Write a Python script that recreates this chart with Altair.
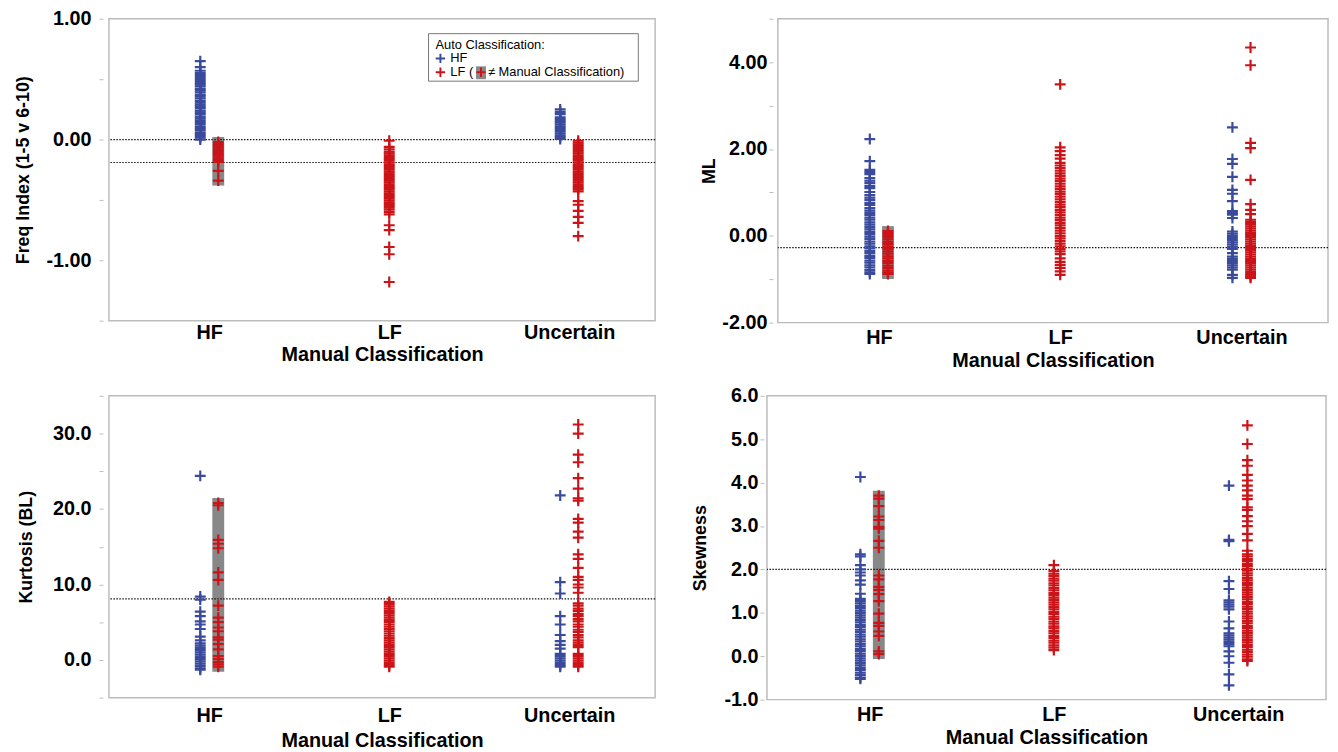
import altair as alt
import pandas as pd

# ---------------- data ----------------
CATEGORIES = ["HF", "LF", "Uncertain"]
AUTO_CLASSES = ["HF", "LF"]

# Freq Index (1-5 v 6-10)
FI_HF_HF = [0.65, 0.60, 0.57, 0.55, 0.535, 0.52, 0.50, 0.485, 0.47, 0.455, 0.44, 0.42, 0.405, 0.39,
            0.37, 0.355, 0.34, 0.32, 0.305, 0.29, 0.275, 0.26, 0.24, 0.225, 0.21, 0.19, 0.175, 0.16,
            0.145, 0.13, 0.11, 0.095, 0.08, 0.06, 0.045, 0.03, 0.015, 0.0]
FI_HF_LF = [-0.02, -0.035, -0.05, -0.065, -0.08, -0.095, -0.11, -0.125, -0.14, -0.155, -0.17,
            -0.185, -0.26, -0.34]
FI_LF_LF = [-0.01, -0.06, -0.08, -0.10, -0.115, -0.13, -0.145, -0.16, -0.175, -0.19, -0.205, -0.22,
            -0.235, -0.25, -0.265, -0.28, -0.295, -0.31, -0.325, -0.34, -0.355, -0.37, -0.385, -0.40,
            -0.415, -0.43, -0.445, -0.46, -0.475, -0.49, -0.505, -0.52, -0.535, -0.55, -0.565, -0.58,
            -0.60, -0.62, -0.71, -0.75, -0.89, -0.95, -1.18]
FI_UN_HF = [0.25, 0.23, 0.21, 0.185, 0.17, 0.155, 0.14, 0.125, 0.11, 0.095, 0.08, 0.065, 0.05, 0.035,
            0.02, 0.005]
FI_UN_LF = [-0.01, -0.025, -0.04, -0.055, -0.07, -0.085, -0.10, -0.115, -0.13, -0.145, -0.16, -0.175,
            -0.19, -0.205, -0.22, -0.235, -0.25, -0.265, -0.28, -0.295, -0.31, -0.325, -0.34, -0.355,
            -0.37, -0.385, -0.40, -0.415, -0.43, -0.51, -0.54, -0.59, -0.64, -0.69, -0.80]
FI_REFS = [0.0, -0.19]

# ML
ML_HF_HF = [2.23, 1.72, 1.52, 1.47, 1.42, 1.33, 1.27, 1.22, 1.15, 1.10, 1.01, 0.94, 0.88, 0.83, 0.76,
            0.71, 0.64, 0.58, 0.53, 0.48, 0.42, 0.37, 0.31, 0.26, 0.20, 0.15, 0.09, 0.04, -0.02,
            -0.07, -0.13, -0.18, -0.24, -0.29, -0.35, -0.40, -0.46, -0.51, -0.57, -0.62, -0.68,
            -0.73, -0.79, -0.84, -0.88]
ML_HF_LF = [0.11, 0.07, 0.02, -0.03, -0.08, -0.14, -0.19, -0.25, -0.30, -0.36, -0.41, -0.47, -0.52,
            -0.58, -0.63, -0.69, -0.74, -0.80, -0.85, -0.88]
ML_LF_LF = [3.49, 2.04, 1.95, 1.86, 1.78, 1.68, 1.62, 1.56, 1.50, 1.44, 1.38, 1.32, 1.26, 1.20, 1.14,
            1.08, 1.02, 0.96, 0.90, 0.84, 0.78, 0.72, 0.66, 0.60, 0.54, 0.48, 0.42, 0.36, 0.30, 0.24,
            0.18, 0.12, 0.06, 0.0, -0.06, -0.12, -0.18, -0.24, -0.30, -0.36, -0.42, -0.52, -0.60,
            -0.67, -0.74, -0.82, -0.90]
ML_UN_HF = [2.50, 1.77, 1.66, 1.36, 1.06, 0.97, 0.80, 0.57, 0.53, 0.49, 0.41, 0.10, 0.05, 0.0, -0.05,
            -0.10, -0.15, -0.20, -0.25, -0.30, -0.40, -0.48, -0.53, -0.58, -0.63, -0.68, -0.73, -0.78,
            -0.90, -0.97]
ML_UN_LF = [4.34, 3.93, 2.14, 2.02, 1.29, 0.73, 0.60, 0.50, 0.37, 0.32, 0.27, 0.22, 0.17, 0.12, 0.07,
            0.02, -0.03, -0.08, -0.13, -0.18, -0.23, -0.28, -0.33, -0.38, -0.43, -0.48, -0.53, -0.58,
            -0.63, -0.68, -0.73, -0.78, -0.83, -0.88, -0.93, -0.97]
ML_REFS = [-0.27]

# Kurtosis (BL)
KU_HF_HF = [24.4, 8.4, 8.0, 6.4, 5.8, 5.1, 4.7, 4.1, 3.1, 2.6, 2.2, 1.9, 1.6, 1.3, 1.0, 0.7, 0.4, 0.1,
            -0.2, -0.5, -0.8, -1.1, -1.3]
KU_HF_LF = [20.8, 20.5, 15.9, 15.4, 14.8, 11.6, 10.6, 7.2, 5.6, 5.0, 4.3, 3.8, 3.0, 2.7, 2.1, 1.4,
            0.5, 0.1, -0.3, -0.6, -0.9]
KU_LF_LF = [7.7, 7.4, 7.1, 6.8, 6.5, 6.2, 5.9, 5.6, 5.3, 5.0, 4.7, 4.4, 4.1, 3.8, 3.5, 3.2, 2.9, 2.6,
            2.3, 2.0, 1.7, 1.4, 1.1, 0.8, 0.5, 0.2, -0.1, -0.4, -0.7, -0.9]
KU_UN_HF = [21.8, 10.3, 8.8, 5.8, 4.7, 3.3, 2.5, 2.0, 1.5, 0.8, 0.5, 0.2, -0.1, -0.4, -0.7, -0.9]
KU_UN_LF = [31.2, 30.0, 27.2, 26.2, 24.1, 22.7, 21.4, 21.1, 18.7, 18.2, 17.0, 16.2, 14.0, 13.4, 12.2,
            11.0, 10.6, 10.0, 9.6, 8.9, 7.5, 7.2, 6.8, 6.5, 6.1, 5.8, 5.4, 5.1, 4.7, 4.4, 4.0, 3.7,
            3.3, 3.0, 2.6, 2.3, 2.0, 1.7, 0.8, 0.5, 0.2, -0.1, -0.4, -0.7, -0.9]
KU_REFS = [8.1]

# Skewness
SK_HF_HF = [4.13, 2.35, 2.30, 2.10, 2.00, 1.93, 1.86, 1.75, 1.65, 1.44, 1.32, 1.27, 1.22, 1.16, 1.11,
            1.05, 1.00, 0.94, 0.89, 0.83, 0.78, 0.72, 0.67, 0.61, 0.56, 0.50, 0.45, 0.39, 0.34, 0.28,
            0.23, 0.17, 0.12, 0.06, 0.01, -0.05, -0.10, -0.16, -0.21, -0.27, -0.32, -0.38, -0.43,
            -0.49, -0.52]
SK_HF_LF = [3.70, 3.63, 3.46, 3.22, 3.14, 2.98, 2.94, 2.66, 2.50, 1.86, 1.77, 1.60, 1.53, 1.43, 1.27,
            0.98, 0.77, 0.70, 0.57, 0.47, 0.11, 0.05]
SK_LF_LF = [2.10, 1.96, 1.90, 1.85, 1.79, 1.74, 1.68, 1.63, 1.57, 1.52, 1.46, 1.41, 1.35, 1.30, 1.24,
            1.19, 1.13, 1.08, 1.02, 0.97, 0.91, 0.86, 0.80, 0.75, 0.69, 0.64, 0.58, 0.53, 0.47, 0.42,
            0.36, 0.31, 0.25, 0.20, 0.14]
SK_UN_HF = [3.93, 2.68, 2.65, 1.73, 1.55, 1.29, 1.24, 1.19, 1.14, 1.08, 0.80, 0.64, 0.53, 0.48, 0.43,
            0.38, 0.33, 0.28, 0.23, 0.11, 0.0, -0.15, -0.42, -0.67]
SK_UN_LF = [5.32, 4.89, 4.52, 4.39, 4.18, 4.05, 3.93, 3.82, 3.70, 3.62, 3.43, 3.37, 3.23, 3.11, 3.00,
            2.82, 2.67, 2.43, 2.35, 2.30, 2.24, 2.19, 2.13, 2.08, 2.02, 1.97, 1.91, 1.86, 1.80, 1.75,
            1.69, 1.64, 1.58, 1.53, 1.47, 1.42, 1.36, 1.31, 1.25, 1.20, 1.14, 1.09, 1.03, 0.98, 0.92,
            0.87, 0.81, 0.76, 0.70, 0.65, 0.59, 0.54, 0.48, 0.43, 0.37, 0.32, 0.26, 0.21, 0.15, 0.10,
            0.04, -0.01, -0.07, -0.11]
SK_REFS = [2.0]

LEGEND_TEXT = ["Auto Classification:", "HF", "LF (", "\u2260 Manual Classification)"]

# ---------------- styling ----------------
BLUE = "#3a4a9c"
RED = "#cc1418"
GRAY_BOX = "#888888"
FRAME = "#bcbcbc"
FONT = "Liberation Sans"
CROSS = "M-1,0L1,0M0,-1L0,1"
MINUS = "\u2212"


def build(groups):
    rows = []
    for manual in CATEGORIES:
        present = [a for a in AUTO_CLASSES if groups.get((manual, a))]
        for auto in present:
            off = 0.0
            if len(present) == 2:
                off = -0.05 if auto == "HF" else 0.05
            for v in groups[(manual, auto)]:
                rows.append({"manual": manual, "auto": auto,
                             "pos": CATEGORIES.index(manual) + off, "value": v})
    return pd.DataFrame(rows)


x_label_expr = "[" + ",".join("'%s'" % c for c in CATEGORIES) + "][datum.value]"


def panel(df, refs, title, domain, ticks, label_expr, width, height, title_pad, label_pad, offset,
          xlab_pad, xtitle_pad, legend=False):
    x_axis = alt.Axis(values=[0, 1, 2], labelExpr=x_label_expr, ticks=False, domain=False,
                      grid=False, labelFontSize=20, labelFontWeight="bold", labelPadding=xlab_pad,
                      titleFontSize=20, titleFontWeight="bold", titlePadding=xtitle_pad,
                      labelColor="black", titleColor="black")
    y_axis = alt.Axis(values=ticks, labelExpr=label_expr, grid=False, domain=False, offset=offset,
                      tickSize=4, tickColor=FRAME, tickWidth=1, labelFontSize=20,
                      labelFontWeight="bold", labelPadding=label_pad, titleFontSize=18,
                      titleFontWeight="bold", titlePadding=title_pad, labelColor="black",
                      titleColor="black")
    xs = alt.Scale(domain=[-0.53, 2.45], nice=False, zero=False)
    ys = alt.Scale(domain=domain, nice=False, zero=False)

    def X(f):
        return alt.X(f, scale=xs, axis=x_axis, title="Manual Classification")

    def Y(f):
        return alt.Y(f, scale=ys, axis=y_axis, title=title)

    base = alt.Chart(df)
    box = base.transform_filter("datum.manual == 'HF' && datum.auto == 'LF'").mark_bar(
        color=GRAY_BOX, size=12, yOffset=5, y2Offset=-5
    ).encode(x=X("pos:Q"), y=Y("min(value):Q"), y2="max(value):Q")
    pts = base.mark_point(shape=CROSS, size=121, strokeWidth=2.2, filled=False, opacity=1).encode(
        x=X("pos:Q"), y=Y("value:Q"),
        color=alt.Color("auto:N", scale=alt.Scale(domain=AUTO_CLASSES, range=[BLUE, RED]), legend=None),
    )
    rules = alt.Chart(pd.DataFrame({"value": refs})).mark_rule(
        color="#111", strokeDash=[1.5, 1.5], strokeWidth=1.2
    ).encode(y=Y("value:Q"))
    layers = [box, rules, pts]
    if legend:
        one = alt.Chart(pd.DataFrame({"k": [0]}))
        lbox = one.mark_rect(fill="white", stroke="#777", strokeWidth=1).encode(
            x=alt.value(323), x2=alt.value(535), y=alt.value(15), y2=alt.value(63))
        t0 = one.mark_text(text=LEGEND_TEXT[0], align="left", baseline="middle", fontSize=13,
                           font=FONT, color="black").encode(x=alt.value(330), y=alt.value(26))
        t1 = one.mark_text(text=LEGEND_TEXT[1], align="left", baseline="middle", fontSize=13,
                           font=FONT, color="black").encode(x=alt.value(345), y=alt.value(40))
        t2 = one.mark_text(text=LEGEND_TEXT[2], align="left", baseline="middle", fontSize=13,
                           font=FONT, color="black").encode(x=alt.value(345), y=alt.value(54))
        t3 = one.mark_text(text=LEGEND_TEXT[3], align="left", baseline="middle", fontSize=13,
                           font=FONT, color="black").encode(x=alt.value(383), y=alt.value(54))
        gsq = one.mark_rect(fill=GRAY_BOX).encode(
            x=alt.value(371), x2=alt.value(381), y=alt.value(48), y2=alt.value(61))
        c1 = one.mark_point(shape=CROSS, size=90, strokeWidth=2, filled=False, color=BLUE,
                            opacity=1).encode(x=alt.value(335), y=alt.value(40))
        c2 = one.mark_point(shape=CROSS, size=90, strokeWidth=2, filled=False, color=RED,
                            opacity=1).encode(x=alt.value(335), y=alt.value(54))
        c3 = one.mark_point(shape=CROSS, size=90, strokeWidth=2, filled=False, color=RED,
                            opacity=1).encode(x=alt.value(376), y=alt.value(54))
        layers += [lbox, t0, t1, t2, t3, gsq, c1, c2, c3]
    return alt.layer(*layers).properties(width=width, height=height)


def lab(cond, fmt):
    body = "replace(format(datum.value, '%s'), '%s', '-')" % (fmt, MINUS)
    if cond:
        return "%s ? %s : ''" % (cond, body)
    return body


df_fi = build({("HF", "HF"): FI_HF_HF, ("HF", "LF"): FI_HF_LF, ("LF", "LF"): FI_LF_LF,
               ("Uncertain", "HF"): FI_UN_HF, ("Uncertain", "LF"): FI_UN_LF})
df_ml = build({("HF", "HF"): ML_HF_HF, ("HF", "LF"): ML_HF_LF, ("LF", "LF"): ML_LF_LF,
               ("Uncertain", "HF"): ML_UN_HF, ("Uncertain", "LF"): ML_UN_LF})
df_ku = build({("HF", "HF"): KU_HF_HF, ("HF", "LF"): KU_HF_LF, ("LF", "LF"): KU_LF_LF,
               ("Uncertain", "HF"): KU_UN_HF, ("Uncertain", "LF"): KU_UN_LF})
df_sk = build({("HF", "HF"): SK_HF_HF, ("HF", "LF"): SK_HF_LF, ("LF", "LF"): SK_LF_LF,
               ("Uncertain", "HF"): SK_UN_HF, ("Uncertain", "LF"): SK_UN_LF})

p1 = panel(df_fi, FI_REFS, "Freq Index (1-5 v 6-10)", [-1.5, 1.0],
           [-1.5, -1.0, -0.5, 0.0, 0.5, 1.0], lab("datum.value % 1 == 0", ".2f"),
           552, 305, 14, 8, 6, 2, 2, legend=True)
p2 = panel(df_ml, ML_REFS, "ML", [-2, 5], [-2, -1, 0, 1, 2, 3, 4, 5],
           lab("datum.value % 2 == 0", ".2f"), 556, 307, 3, 2, 5, 5, 3)
p3 = panel(df_ku, KU_REFS, "Kurtosis (BL)", [-5, 35], [-5, 0, 5, 10, 15, 20, 25, 30, 35],
           lab("datum.value % 10 == 0 && datum.value >= 0 && datum.value <= 30", ".1f"),
           552, 305, 17, 8, 6, 8, 5)
p4 = panel(df_sk, SK_REFS, "Skewness", [-1, 6], [-1, 0, 1, 2, 3, 4, 5, 6],
           lab("", ".1f"), 565, 307, 15, 2, 3, 5, 3)

chart = alt.vconcat(
    alt.hconcat(p1, p2, spacing=43),
    alt.hconcat(p3, p4, spacing=33),
    spacing=14,
).properties(
    padding={"left": 5, "top": -4, "right": 0, "bottom": 0}
).configure(font=FONT).configure_view(stroke=FRAME, strokeWidth=1.5)

chart.save("out.html", embed_options={"renderer": "svg", "actions": False})
